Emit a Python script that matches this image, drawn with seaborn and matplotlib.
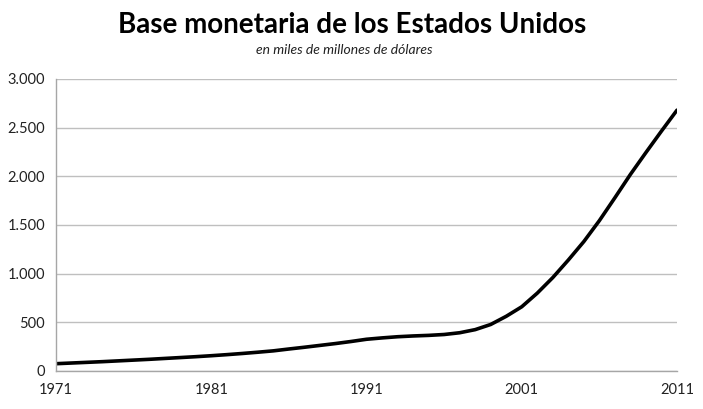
import matplotlib
matplotlib.use("Agg")
import matplotlib.pyplot as plt
import matplotlib.ticker as mticker
import seaborn as sns
import pandas as pd

years = list(range(1971, 2012))
base = [75, 82, 89, 96, 104, 112, 120, 129, 138, 147,
        157, 168, 180, 193, 207, 226, 244, 263, 282, 303,
        326, 340, 352, 360, 366, 375, 393, 425, 478, 562,
        660, 800, 960, 1140, 1330, 1545, 1780, 2020, 2245, 2465,
        2680]
x_ticks = [1971, 1981, 1991, 2001, 2011]
y_ticks = [0, 500, 1000, 1500, 2000, 2500, 3000]
title = "Base monetaria de los Estados Unidos"
subtitle = "en miles de millones de dólares"

df = pd.DataFrame({"year": years, "base": base})

sns.set_style("white")
plt.rcParams["font.family"] = ["Lato", "DejaVu Sans"]

fig = plt.figure(figsize=(7.03, 4.09), dpi=100)
ax = fig.add_axes([56/703, 38/409, (677-56)/703, (371-79)/409])

sns.lineplot(data=df, x="year", y="base", ax=ax, color="black", linewidth=2.6)
for ln in ax.lines:
    ln.set_solid_joinstyle("round")
    ln.set_solid_capstyle("round")

ax.set_xlim(1971, 2011)
ax.set_ylim(0, 3000)
ax.set_xticks(x_ticks)
ax.set_yticks(y_ticks)
ax.yaxis.set_major_formatter(mticker.FuncFormatter(lambda v, p: f"{int(v):,}".replace(",", ".")))
ax.grid(axis="y", color="#bfbfbf", linewidth=1)
ax.grid(axis="x", visible=False)
ax.set_axisbelow(True)
for s in ["top", "right"]:
    ax.spines[s].set_visible(False)
for s in ["left", "bottom"]:
    ax.spines[s].set_color("#a6a6a6")
    ax.spines[s].set_linewidth(1)
ax.tick_params(axis="both", direction="out", length=5, width=1, color="#a6a6a6",
               labelsize=10.5, labelcolor="#222222", pad=3)
ax.tick_params(axis="x", pad=4)
ax.set_xlabel("")
ax.set_ylabel("")

fig.text(352/703, 1 - 25/409, title, ha="center", va="center",
         fontsize=20, fontweight="bold", color="black")
fig.text(344/703, 1 - 50/409, subtitle, ha="center", va="center",
         fontsize=10, style="italic", color="#222222")

fig.savefig("out.png", dpi=100)
